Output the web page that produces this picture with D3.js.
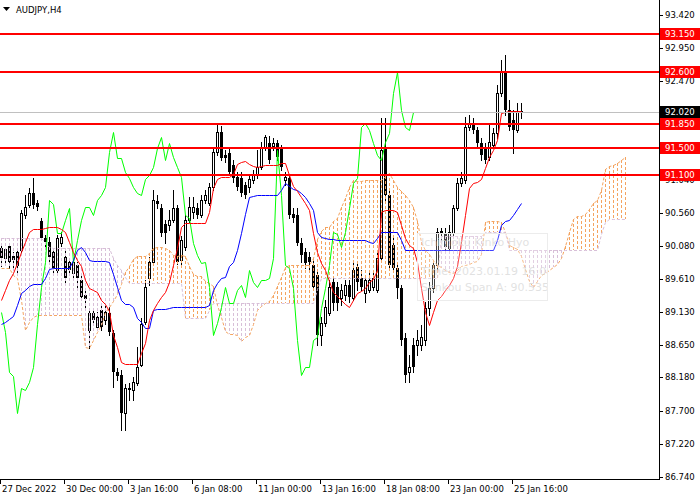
<!DOCTYPE html>
<html>
<head>
<meta charset="utf-8">
<script src="https://cdn.jsdelivr.net/npm/d3@7"></script>
<style>
  body { margin: 0; background: #fff; }
  svg { display: block; }
  text { font-family: "DejaVu Sans", sans-serif; }
</style>
</head>
<body>
<div id="chart"></div>
<script>
// AUDJPY H4, 27 Dec 2022 .. 26 Jan 2023, one value per H4 bar
const symbol = "AUDJPY,H4";

const open = [90.05,89.91,90.08,89.94,90.00,90.02,90.53,90.67,90.85,90.70,
  90.44,90.20,90.14,89.99,89.73,90.12,89.92,89.85,89.69,89.80,
  89.59,89.37,88.87,89.11,88.91,89.15,89.01,89.11,88.82,88.26,
  88.21,87.67,88.03,88.00,88.10,88.36,88.98,89.62,89.85,90.73,
  90.63,90.40,90.38,90.46,90.63,89.88,90.07,90.46,90.57,90.63,
  90.53,90.75,90.70,90.93,91.44,91.73,91.40,91.42,91.25,91.08,
  91.06,90.96,90.93,91.03,91.11,91.22,91.50,91.57,91.53,91.57,
  91.50,91.03,91.06,90.54,90.53,90.12,89.99,89.92,89.80,89.66,
  88.79,88.97,89.11,89.56,89.49,89.33,89.37,89.52,89.33,89.78,
  89.62,89.40,89.44,89.49,89.44,89.91,91.50,90.82,90.09,89.76,
  89.47,88.75,88.26,88.65,88.65,88.65,88.72,89.18,89.47,89.80,
  90.30,90.25,90.05,90.27,90.63,90.99,91.03,91.80,91.86,91.76,
  91.57,91.50,91.37,91.54,91.71,92.29,92.60,92.05,91.90,91.76,
  92.03];

const high = [90.09,90.05,90.10,90.00,90.05,90.60,90.82,90.92,91.06,90.75,
  90.48,90.24,90.21,90.05,90.24,90.28,90.02,89.91,89.91,89.85,
  89.65,89.44,89.18,89.18,89.13,89.23,89.21,89.20,88.87,88.32,
  88.29,88.08,88.10,88.19,88.62,89.04,89.59,89.92,90.89,90.82,
  90.69,90.46,90.60,90.89,90.67,90.22,90.53,90.79,90.79,90.70,
  90.82,90.89,90.99,91.50,91.83,91.81,91.47,91.50,91.32,91.15,
  91.15,91.00,91.11,91.18,91.47,91.58,91.69,91.67,91.64,91.61,
  91.54,91.15,91.11,90.63,90.63,90.20,90.05,89.99,89.88,89.70,
  89.05,89.30,89.59,89.63,89.56,89.53,89.59,89.59,89.85,89.83,
  89.73,89.66,89.69,89.70,90.02,91.93,91.93,90.89,90.24,89.80,
  89.52,88.82,88.50,88.75,88.87,88.94,89.27,89.56,89.85,90.34,
  90.34,90.34,90.38,90.67,91.06,91.15,91.94,91.97,91.93,91.80,
  91.64,91.57,91.86,91.79,92.41,92.77,92.84,92.19,92.05,92.15,
  92.15];

const low = [89.79,89.85,89.76,89.73,89.70,89.99,90.49,90.64,90.63,90.60,
  90.17,90.08,89.85,89.70,89.70,90.08,89.56,89.66,89.63,89.44,
  89.30,89.15,88.61,88.94,88.87,88.87,88.95,88.79,88.04,88.14,
  87.42,87.42,87.85,87.85,88.07,88.35,88.95,89.52,89.82,90.63,
  90.22,90.12,90.31,90.43,89.82,89.79,90.02,90.43,90.49,90.49,
  90.50,90.70,90.67,90.89,91.40,91.32,91.30,91.11,91.00,90.89,
  90.80,90.77,90.86,90.99,91.06,91.19,91.47,91.28,91.47,91.32,
  91.18,90.96,90.49,90.43,90.09,89.85,89.76,89.73,89.44,88.65,
  88.65,88.92,89.08,89.15,89.15,89.23,89.30,89.27,89.30,89.44,
  89.44,89.27,89.41,89.44,89.41,89.85,90.75,89.73,89.70,89.33,
  88.65,88.11,88.11,88.26,88.50,88.58,88.65,89.08,89.41,89.73,
  90.14,90.02,90.02,90.22,90.60,90.95,90.99,91.76,91.71,91.50,
  91.32,91.28,91.32,91.50,91.64,92.25,91.97,91.76,91.42,91.73,
  91.93];

const close = [89.91,90.04,89.85,89.88,89.79,90.56,90.64,90.85,90.67,90.64,
  90.20,90.14,89.92,89.76,90.20,90.21,89.62,89.73,89.85,89.62,
  89.34,89.31,89.11,89.01,89.05,88.91,89.13,88.84,88.26,88.20,
  87.67,88.03,88.00,88.11,88.33,88.95,89.49,89.85,90.75,90.69,
  90.27,90.27,90.46,90.63,89.85,90.17,90.46,90.64,90.64,90.53,
  90.75,90.82,90.93,91.44,91.73,91.35,91.35,91.15,91.06,90.93,
  90.85,90.82,91.05,91.11,91.22,91.50,91.66,91.32,91.57,91.37,
  91.22,91.08,90.53,90.49,90.12,89.95,89.83,89.85,89.49,88.79,
  88.97,89.20,89.49,89.25,89.25,89.44,89.52,89.34,89.73,89.56,
  89.49,89.59,89.59,89.62,89.91,91.47,90.82,89.80,89.76,89.47,
  88.72,88.21,88.33,88.33,88.72,88.76,89.18,89.47,89.80,90.28,
  90.25,90.07,90.28,90.63,90.99,91.06,91.80,91.86,91.76,91.57,
  91.40,91.32,91.58,91.71,92.29,92.60,92.05,91.80,91.76,92.02,
  92.02];

// Ichimoku lines
const tenkan = [89.30,89.44,89.59,89.69,89.83,89.99,90.14,90.28,90.33,90.33,
  90.33,90.34,90.35,90.35,90.35,90.33,90.28,90.14,89.99,89.88,
  89.79,89.59,89.47,89.44,89.41,89.30,89.24,89.14,88.79,88.62,
  88.40,88.37,88.37,88.37,88.37,88.53,88.68,89.01,89.15,89.25,
  89.34,89.41,89.56,89.80,90.05,90.35,90.41,90.41,90.41,90.41,
  90.41,90.41,90.57,90.92,91.05,91.08,91.08,91.08,91.12,91.27,
  91.29,91.31,91.27,91.24,91.22,91.24,91.25,91.25,91.25,91.25,
  91.28,91.28,91.11,90.95,90.87,90.79,90.70,90.60,90.27,89.99,
  89.83,89.73,89.57,89.41,89.36,89.30,89.24,89.20,89.30,89.40,
  89.43,89.47,89.56,89.60,89.73,90.57,90.60,90.60,90.60,90.57,
  90.38,90.19,90.09,90.05,89.85,89.47,89.13,88.94,89.13,89.30,
  89.36,89.44,89.52,89.62,89.79,90.14,90.53,90.92,90.99,91.01,
  91.05,91.21,91.37,91.47,91.61,92.00,92.02,92.03,92.03,92.03,
  92.03];

const kijun = [88.95,88.98,89.02,89.07,89.23,89.40,89.44,89.50,89.53,89.53,
  89.53,89.62,89.75,89.76,89.76,89.76,89.76,89.76,89.88,90.02,
  90.07,89.99,89.88,89.86,89.86,89.86,89.86,89.85,89.67,89.49,
  89.30,89.24,89.24,89.20,89.04,88.98,88.89,88.89,89.15,89.17,
  89.17,89.17,89.18,89.20,89.20,89.20,89.20,89.20,89.20,89.20,
  89.20,89.20,89.23,89.44,89.54,89.62,89.63,89.79,89.85,90.02,
  90.27,90.54,90.79,90.80,90.82,90.82,90.82,90.82,90.82,90.82,
  90.89,90.99,90.95,90.90,90.89,90.85,90.79,90.70,90.60,90.28,
  90.21,90.20,90.18,90.18,90.17,90.17,90.17,90.17,90.17,90.17,
  90.17,90.17,90.14,90.12,90.20,90.28,90.28,90.28,90.28,90.28,
  90.17,90.02,90.02,90.02,90.02,90.02,90.02,90.02,90.02,90.02,
  90.02,90.02,90.02,90.02,90.02,90.02,90.02,90.02,90.02,90.02,
  90.02,90.02,90.02,90.02,90.17,90.38,90.44,90.46,90.53,90.61,
  90.70];

// cloud spans run 26 bars past the last candle
const senkouA = [89.76,89.76,89.76,89.66,89.62,89.30,88.87,88.98,89.05,89.08,
  89.08,89.08,89.08,89.08,89.08,89.08,89.08,89.08,89.08,89.08,
  89.08,88.62,88.61,88.72,88.84,88.94,89.13,89.20,89.29,89.38,
  89.53,89.70,89.79,89.89,89.93,89.93,89.93,89.98,90.05,90.06,
  90.06,90.05,90.02,89.95,89.94,89.95,89.93,89.79,89.68,89.65,
  89.64,89.58,89.55,89.50,89.23,89.06,88.85,88.81,88.81,88.79,
  88.71,88.76,88.79,88.95,89.15,89.21,89.26,89.29,89.37,89.50,
  89.63,89.78,89.81,89.81,89.81,89.81,89.81,89.81,89.90,90.18,
  90.30,90.35,90.36,90.44,90.49,90.65,90.78,90.93,91.03,91.02,
  91.02,91.03,91.04,91.04,91.04,91.04,91.09,91.14,91.03,90.93,
  90.88,90.82,90.75,90.65,90.44,90.14,90.02,89.97,89.88,89.80,
  89.77,89.74,89.71,89.69,89.74,89.79,89.80,89.82,89.85,89.86,
  89.97,90.43,90.44,90.44,90.44,90.43,90.28,90.10,90.06,90.03,
  89.94,89.75,89.58,89.48,89.58,89.66,89.69,89.73,89.77,89.82,
  89.91,90.08,90.28,90.47,90.51,90.52,90.54,90.62,90.70,90.75,
  90.89,91.19,91.23,91.25,91.28,91.32,91.37];

const senkouB = [90.19,90.19,90.19,90.19,90.19,90.19,90.19,90.19,90.19,90.19,
  90.19,90.14,90.07,90.05,90.05,90.05,90.05,90.05,90.05,90.05,
  90.05,90.05,90.05,90.05,90.05,90.05,90.05,90.05,89.91,89.81,
  89.73,89.63,89.55,89.55,89.55,89.55,89.55,89.55,89.55,89.55,
  89.55,89.55,89.55,89.55,89.55,89.55,89.04,89.04,89.04,89.04,
  89.04,89.04,89.15,89.25,89.25,89.25,89.25,89.25,89.25,89.25,
  89.25,89.25,89.25,89.25,89.25,89.25,89.25,89.25,89.25,89.25,
  89.25,89.25,89.25,89.25,89.25,89.25,89.25,89.25,89.25,89.46,
  89.62,89.62,89.62,89.62,89.62,89.62,89.62,89.62,89.62,89.62,
  89.62,89.62,89.62,89.62,89.62,89.62,89.62,89.62,89.62,89.62,
  89.62,89.62,89.62,89.62,89.62,89.62,89.62,89.62,89.62,89.62,
  90.23,90.23,90.23,90.23,90.23,90.23,90.23,90.23,90.23,90.23,
  90.23,90.28,90.28,90.28,90.28,90.28,90.28,90.02,90.02,90.02,
  90.02,90.02,90.02,90.02,90.02,90.02,90.02,90.02,90.02,90.02,
  90.02,90.02,90.02,90.02,90.02,90.02,90.02,90.02,90.02,90.02,
  90.25,90.43,90.47,90.47,90.47,90.47,90.47];

const chikouShift = 26;

const priceTicks = [93.42,92.95,92.47,91.99,91.52,91.04,90.56,90.08,89.61,89.13,88.65,88.18,87.70,87.22,86.74];
const timeLabels = ["27 Dec 2022","30 Dec 00:00","3 Jan 16:00","6 Jan 08:00","11 Jan 00:00","13 Jan 16:00","18 Jan 08:00","23 Jan 00:00","25 Jan 16:00"];
const timeLabelBars = [0,16,32,48,64,80,96,112,128];

const levels = [93.15, 92.60, 91.85, 91.50, 91.10];
const bidPrice = 92.02;
const tooltipLines = ["Ichimoku Kinko Hyo", "Time: 2023.01.19 16:00", "Senkou Span A: 90.535"];

// ---------------------------------------------------------------
const W = 700, H = 500, plotW = 659, plotH = 479;

const svg = d3.select("#chart").append("svg")
  .attr("width", W).attr("height", H);
const defs = svg.append("defs");

defs.append("clipPath").attr("id", "plot")
  .append("rect").attr("x", 0).attr("y", 0).attr("width", plotW).attr("height", plotH);

const x = d3.scaleLinear().domain([0, 164.5]).range([1, 659]);   // 4 px per bar
const y = d3.scaleLinear().domain([86.711, 93.637]).range([479, 0]);
const py = v => Math.round(y(v));

const plot = svg.append("g").attr("clip-path", "url(#plot)");

// candles
const bars = d3.range(open.length);
const bull = i => close[i] >= open[i];
const cg = plot.append("g").attr("shape-rendering", "crispEdges");
cg.selectAll("line").data(bars).join("line")
  .attr("x1", i => x(i) + 0.5).attr("x2", i => x(i) + 0.5)
  .attr("y1", i => py(high[i])).attr("y2", i => py(low[i]) + 1)
  .attr("stroke", "#000");
cg.selectAll("rect").data(bars).join("rect")
  .attr("x", i => bull(i) ? x(i) - 0.5 : x(i) - 1)
  .attr("y", i => py(Math.max(open[i], close[i])) + (bull(i) ? 0.5 : 0))
  .attr("width", i => bull(i) ? 2 : 3)
  .attr("height", i => Math.max(1, py(Math.min(open[i], close[i])) - py(Math.max(open[i], close[i]))))
  .attr("fill", i => bull(i) ? "#fff" : "#000")
  .attr("stroke", i => bull(i) ? "#000" : "none");

// kumo hatching: one dashed column per bar
const cloudBars = d3.range(senkouA.length);
plot.append("g").attr("shape-rendering", "crispEdges")
  .selectAll("line").data(cloudBars).join("line")
  .attr("x1", i => x(i) + 0.5).attr("x2", i => x(i) + 0.5)
  .attr("y1", i => Math.min(py(senkouA[i]), py(senkouB[i])))
  .attr("y2", i => Math.max(py(senkouA[i]), py(senkouB[i])))
  .attr("stroke", i => senkouA[i] >= senkouB[i] ? "#F4A460" : "#D8BFD8")
  .attr("stroke-width", 1)
  .attr("stroke-dasharray", "3,2");

const line = d3.line().x((d, i) => x(i) + 0.5).y(d => py(d) + 0.5);

plot.append("path").datum(senkouA).attr("d", line)
  .attr("fill", "none").attr("stroke", "#F4A460").attr("stroke-dasharray", "3,2");
plot.append("path").datum(senkouB).attr("d", line)
  .attr("fill", "none").attr("stroke", "#D8BFD8").attr("stroke-dasharray", "3,2");

plot.append("path").datum(close.slice(chikouShift)).attr("d", line)
  .attr("fill", "none").attr("stroke", "#00FF00");
plot.append("path").datum(kijun).attr("d", line)
  .attr("fill", "none").attr("stroke", "#0000FF");
plot.append("path").datum(tenkan).attr("d", line)
  .attr("fill", "none").attr("stroke", "#FF0000");

// bid line and horizontal levels
plot.append("line")
  .attr("x1", 0).attr("x2", plotW)
  .attr("y1", py(bidPrice) + 0.5).attr("y2", py(bidPrice) + 0.5)
  .attr("stroke", "#C0C0C0").attr("shape-rendering", "crispEdges");

plot.append("g").selectAll("line").data(levels).join("line")
  .attr("x1", 0).attr("x2", plotW)
  .attr("y1", d => py(d)).attr("y2", d => py(d))
  .attr("stroke", "#FF0000").attr("stroke-width", 2)
  .attr("shape-rendering", "crispEdges");

// faded tooltip left on the chart
const tip = svg.append("g");
defs.append("clipPath").attr("id", "tipclip")
  .append("rect").attr("x", 417).attr("y", 233).attr("width", 130).attr("height", 67);
tip.append("rect")
  .attr("x", 417.5).attr("y", 233.5).attr("width", 130).attr("height", 67)
  .attr("fill", "#fff").attr("fill-opacity", 0.25)
  .attr("stroke", "#ececec");
tip.append("g").attr("clip-path", "url(#tipclip)")
  .selectAll("text").data(tooltipLines).join("text")
  .attr("x", 421).attr("y", (d, i) => [246, 275, 291][i])
  .attr("font-size", 11)
  .attr("fill", "#d8d8d8").attr("fill-opacity", 0.75)
  .text(d => d);

// axes frame
const axis = svg.append("g").attr("shape-rendering", "crispEdges");
axis.append("line").attr("x1", plotW + 0.5).attr("x2", plotW + 0.5)
  .attr("y1", 0).attr("y2", plotH + 1).attr("stroke", "#000");
axis.append("line").attr("x1", 0).attr("x2", plotW + 1)
  .attr("y1", plotH + 0.5).attr("y2", plotH + 0.5).attr("stroke", "#000");

// price ticks; labels that sit fully under a price tag are not visible
const tagPrices = levels.concat([bidPrice]);
const hiddenTick = d => tagPrices.some(t => Math.abs(py(t) - py(d)) < 4);
axis.selectAll(".pt").data(priceTicks).join("line")
  .attr("x1", plotW).attr("x2", plotW + 4)
  .attr("y1", d => py(d) + 0.5).attr("y2", d => py(d) + 0.5)
  .attr("stroke", "#000");
svg.append("g").selectAll("text").data(priceTicks.filter(d => !hiddenTick(d))).join("text")
  .attr("x", 665).attr("y", d => py(d)).attr("dy", "0.35em")
  .attr("font-size", 8.5).attr("fill", "#000")
  .text(d => d.toFixed(3));

// time ticks
axis.selectAll(".tt").data(timeLabelBars).join("line")
  .attr("x1", d => x(d) - 0.5).attr("x2", d => x(d) - 0.5)
  .attr("y1", plotH).attr("y2", plotH + 5)
  .attr("stroke", "#000");
svg.append("g").selectAll("text").data(timeLabels).join("text")
  .attr("x", (d, i) => x(timeLabelBars[i]) + 1)
  .attr("y", 492)
  .attr("font-size", 8.5).attr("fill", "#000")
  .text(d => d);

// price labels on the right scale
const tags = svg.append("g");
const tagData = levels.map(v => ({ v, bg: "#FF0000" })).concat([{ v: bidPrice, bg: "#000" }]);
tags.selectAll("rect").data(tagData).join("rect")
  .attr("x", 660).attr("y", d => py(d.v) - 6).attr("width", 40).attr("height", 12)
  .attr("fill", d => d.bg).attr("shape-rendering", "crispEdges");
tags.selectAll("text").data(tagData).join("text")
  .attr("x", 665).attr("y", d => py(d.v)).attr("dy", "0.35em")
  .attr("font-size", 8.5).attr("fill", "#fff")
  .text(d => d.v.toFixed(3));

// symbol caption
svg.append("path").attr("d", "M3,7 L10,7 L6.5,11 Z").attr("fill", "#000");
svg.append("text").attr("x", 16).attr("y", 13)
  .attr("font-size", 8.5).attr("fill", "#000")
  .text(symbol);
</script>
</body>
</html>
